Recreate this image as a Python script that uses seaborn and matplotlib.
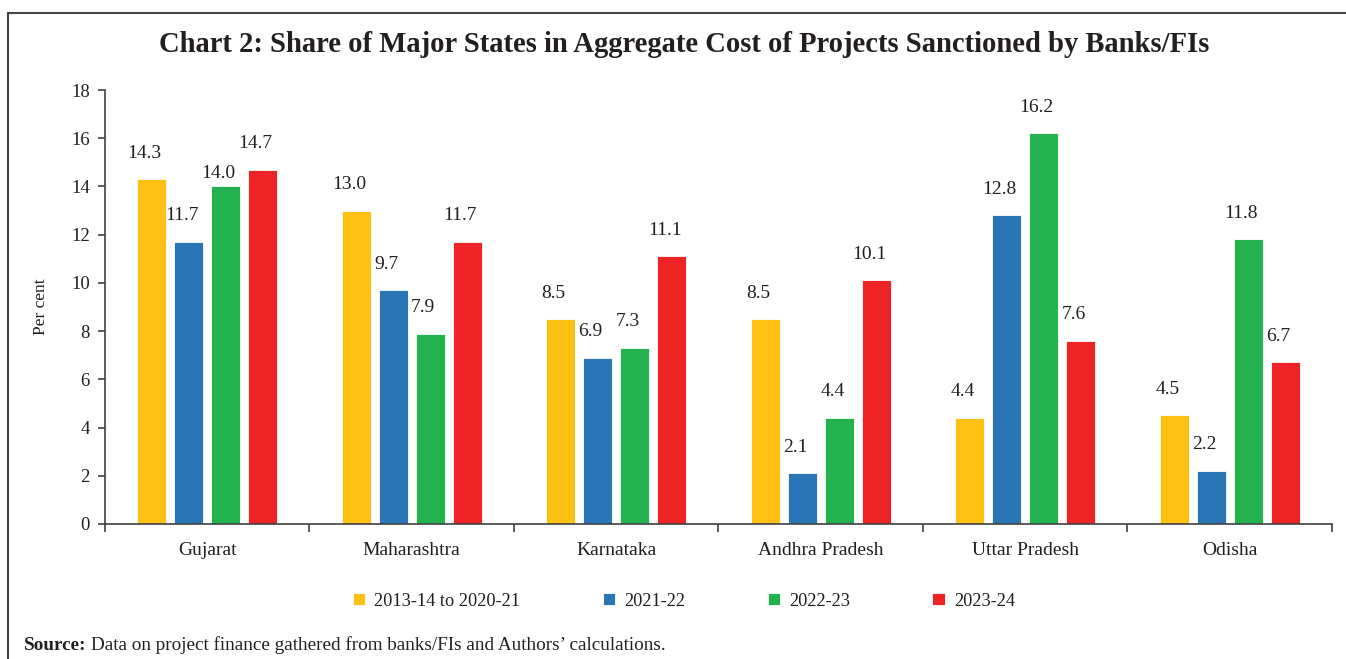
import matplotlib
matplotlib.use("Agg")
import matplotlib.pyplot as plt
import seaborn as sns
import pandas as pd
from matplotlib.lines import Line2D

states = ["Gujarat", "Maharashtra", "Karnataka", "Andhra Pradesh", "Uttar Pradesh", "Odisha"]
periods = ["2013-14 to 2020-21", "2021-22", "2022-23", "2023-24"]
v_2013_21 = [14.3, 13.0, 8.5, 8.5, 4.4, 4.5]
v_2021_22 = [11.7, 9.7, 6.9, 2.1, 12.8, 2.2]
v_2022_23 = [14.0, 7.9, 7.3, 4.4, 16.2, 11.8]
v_2023_24 = [14.7, 11.7, 11.1, 10.1, 7.6, 6.7]
yticks = [0, 2, 4, 6, 8, 10, 12, 14, 16, 18]

series = [v_2013_21, v_2021_22, v_2022_23, v_2023_24]
rows = []
for p, vals in zip(periods, series):
    for s, v in zip(states, vals):
        rows.append({"State": s, "Period": p, "Value": v})
df = pd.DataFrame(rows)

colors = ["#FDC013", "#2A75B6", "#22B24E", "#EE2326"]

sns.set_theme(style="white")
plt.rcParams["font.family"] = ["Liberation Serif", "DejaVu Serif"]

fig = plt.figure(figsize=(13.46, 6.59), dpi=100)
ax = fig.add_axes([0.078, 0.2049, 0.9116, 0.6585])

sns.barplot(data=df, x="State", y="Value", hue="Period", order=states,
            hue_order=periods, palette=colors, width=0.724, gap=0.22,
            saturation=1, edgecolor="#ffffff", linewidth=0.6, ax=ax, legend=True)

# data labels
for ci, cont in enumerate(ax.containers):
    for bi, bar in enumerate(cont):
        val = series[ci][bi]
        dy = 26
        if ci == 2 and bi == 0:
            dy = 13
        ax.annotate(f"{val:.1f}", (bar.get_x() + bar.get_width() / 2, bar.get_height()),
                    xytext=(-7, dy), textcoords="offset pixels", ha="center", va="center",
                    fontsize=14, color="#231F20")

ax.set_ylim(0, 18)
ax.set_yticks(yticks)
ax.set_yticklabels([str(t) for t in yticks], fontsize=13.5, color="#231F20")
ax.set_xlim(-0.5, 5.5)
ax.set_xticks([i + 0.5 for i in range(-1, 6)])
ax.set_xticklabels([])
ax.set_xticks(range(len(states)), minor=True)
ax.set_xticklabels(states, minor=True, fontsize=14, color="#231F20")
ax.tick_params(axis="x", which="major", direction="out", length=6, width=1.2, color="#404040", bottom=True)
ax.tick_params(axis="x", which="minor", length=0, pad=13)
ax.tick_params(axis="y", direction="out", length=5, width=1.2, color="#404040", left=True, pad=6)
ax.set_xlabel("")
ax.set_ylabel("Per cent", fontsize=12.5, color="#231F20", labelpad=16)
for side in ["top", "right"]:
    ax.spines[side].set_visible(False)
for side in ["left", "bottom"]:
    ax.spines[side].set_color("#404040")
    ax.spines[side].set_linewidth(1.2)

handles, labels = ax.get_legend_handles_labels()
ax.legend_.remove()
fig.legend(handles, labels, loc="center", bbox_to_anchor=(0.508, 0.088), ncol=4,
           frameon=False, fontsize=13.2, handlelength=0.67, handleheight=0.67,
           handletextpad=0.5, columnspacing=4.5, labelcolor="#231F20")

fig.text(0.508, 0.933, "Chart 2: Share of Major States in Aggregate Cost of Projects Sanctioned by Banks/FIs",
         ha="center", va="center", fontsize=20.6, fontweight="bold", color="#231F20")

# border
fig.add_artist(Line2D([8 / 1346, 8 / 1346], [0, 1 - 13 / 659], transform=fig.transFigure,
                      color="#444444", lw=1.5))
fig.add_artist(Line2D([8 / 1346, 1], [1 - 13 / 659, 1 - 13 / 659], transform=fig.transFigure,
                      color="#444444", lw=1.5))

t1 = fig.text(24 / 1346, 1 - 645 / 659, "Source:", ha="left", va="center", fontsize=13.8,
              fontweight="bold", color="#231F20")
fig.canvas.draw()
bb = t1.get_window_extent()
fig.text((bb.x1 + 5) / 1346, 1 - 645 / 659,
         "Data on project finance gathered from banks/FIs and Authors\u2019 calculations.",
         ha="left", va="center", fontsize=13.8, color="#231F20")

fig.savefig("out.png", dpi=100)
